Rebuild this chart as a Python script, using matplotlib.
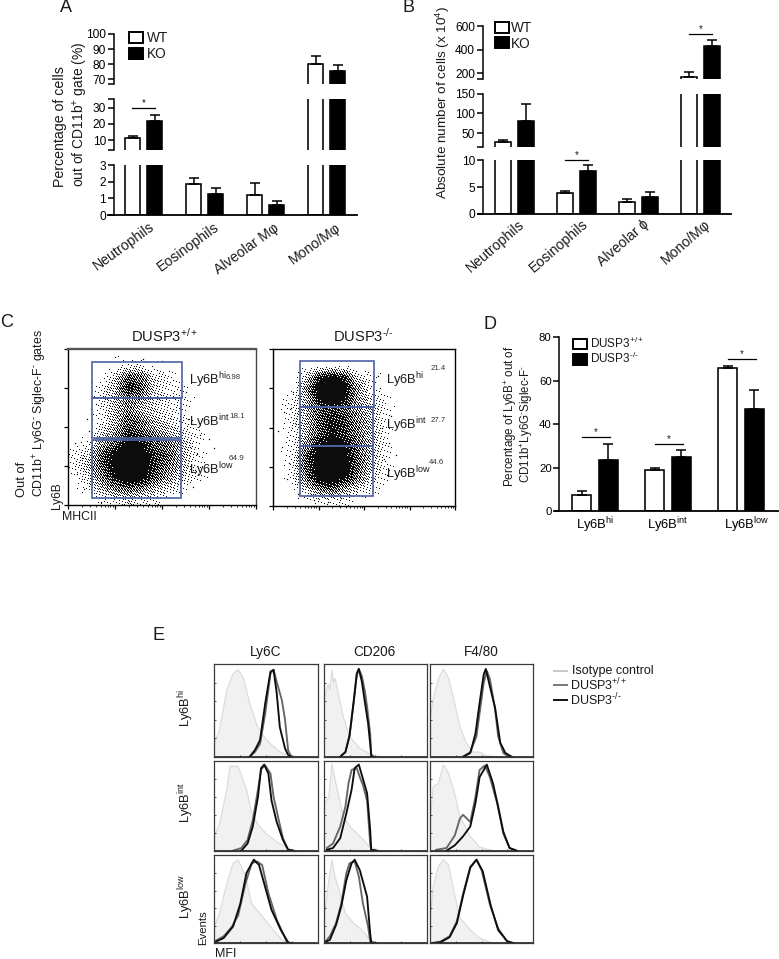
import numpy as np
import matplotlib
matplotlib.use("Agg")
import matplotlib.pyplot as plt
from matplotlib.patches import Patch, Rectangle
from matplotlib.lines import Line2D
from matplotlib.transforms import ScaledTranslation

plt.rcParams.update({
    "font.family": ["Liberation Sans", "DejaVu Sans"],
    "mathtext.fontset": "custom", "mathtext.rm": "Liberation Sans",
    "mathtext.it": "Liberation Sans:italic", "mathtext.bf": "Liberation Sans:bold",
    "mathtext.default": "regular", "text.color": "#1a1a1a",
})

# ---------- Panel A ----------
CELLS_A = ["Neutrophils", "Eosinophils", "Alveolar Mφ", "Mono/Mφ"]
A_WT = [11.5, 1.85, 1.2, 80]
A_WT_ERR = [1.0, 0.4, 0.7, 5.5]
A_KO = [21.5, 1.25, 0.6, 75.5]
A_KO_ERR = [4.0, 0.35, 0.25, 4.0]
# ---------- Panel B ----------
CELLS_B = ["Neutrophils", "Eosinophils", "Alveolar ɸ", "Mono/Mφ"]
B_WT = [26, 3.8, 2.2, 171]
B_WT_ERR = [6, 0.5, 0.55, 37]
B_KO = [81, 8.0, 3.1, 434]
B_KO_ERR = [44, 1.2, 0.9, 49]
# ---------- Panel D ----------
GATES_D = ["Ly6B$^{hi}$", "Ly6B$^{int}$", "Ly6B$^{low}$"]
D_WT = [7.5, 19, 66]
D_WT_ERR = [1.5, 0.8, 1.0]
D_KO = [23.7, 25, 47]
D_KO_ERR = [7.3, 3.2, 8.8]
D_SIG = [34, 30.7, 70]

# ---------- Panel C: hand-read dot density (rows top to bottom, columns left to right) ----------
DENS_WT = [
 [0,0,0,0,0,0,0,0,0,0,0,0,0,0],
 [0,0,0,0,1,1,0,0,0,0,0,0,0,0],
 [0,0,0,2,6,5,2,1,0,0,0,0,0,0],
 [0,0,1,3,8,6,2,1,1,0,0,0,0,0],
 [0,0,1,3,5,4,2,1,1,0,0,0,0,0],
 [0,0,1,3,5,3,2,1,1,0,0,0,0,0],
 [0,0,1,3,6,5,3,2,1,0,0,0,0,0],
 [0,0,2,4,7,6,4,3,2,1,0,0,0,0],
 [0,1,4,6,9,8,6,5,3,1,0,0,0,0],
 [1,2,6,9,10,9,7,6,3,1,0,0,0,0],
 [1,3,6,9,10,10,7,5,3,1,0,0,0,0],
 [0,2,5,8,10,9,6,4,2,1,0,0,0,0],
 [0,1,3,5,6,5,3,2,1,0,0,0,0,0],
 [0,0,1,1,2,1,1,0,0,0,0,0,0,0],
]
DENS_KO = [
 [0,0,0,0,0,0,0,0,0,0,0,0,0,0],
 [0,0,0,0,0,0,0,0,0,0,0,0,0,0],
 [0,0,2,7,9,7,2,1,0,0,0,0,0,0],
 [0,0,4,9,10,9,4,1,0,0,0,0,0,0],
 [0,1,3,8,9,8,4,2,1,0,0,0,0,0],
 [0,1,3,6,7,6,4,3,1,0,0,0,0,0],
 [0,1,3,6,8,7,5,3,1,0,0,0,0,0],
 [0,1,3,6,8,7,5,3,1,0,0,0,0,0],
 [0,1,4,8,9,8,6,3,1,0,0,0,0,0],
 [0,1,6,9,10,9,6,3,1,0,0,0,0,0],
 [0,1,6,9,10,10,6,3,1,0,0,0,0,0],
 [0,1,5,9,10,8,5,2,1,0,0,0,0,0],
 [0,0,2,5,6,4,2,1,0,0,0,0,0,0],
 [0,0,0,1,1,1,0,0,0,0,0,0,0,0],
]
GATES_WT = [(0.52, 2.42, 2.74, 3.66), (0.52, 2.41, 1.71, 2.74), (0.50, 2.41, 0.19, 1.67)]
GATES_KO = [(0.59, 2.22, 2.53, 3.70), (0.60, 2.19, 1.52, 2.53), (0.60, 2.20, 0.26, 1.52)]
STRAY_WT_X = [0.3,0.45,0.2,0.6,0.35,2.6,2.8,3.0,2.55,2.7,3.1,0.15,2.65,2.9,0.4,1.0,1.6,2.0,1.3,0.7,2.5,2.75]
STRAY_WT_Y = [1.2,1.9,0.8,2.6,0.4,1.5,1.8,1.7,2.2,0.9,1.45,1.6,0.45,1.1,2.2,3.8,3.75,3.7,0.1,0.08,2.9,1.3]
STRAY_KO_X = [0.2,0.35,0.5,0.45,0.3,2.4,2.55,2.35,2.7,2.5,0.1,0.55,2.6,0.4,0.9,1.5,1.2,2.45,0.25,2.3]
STRAY_KO_Y = [1.5,1.1,2.1,2.9,0.7,2.0,1.6,3.0,1.3,0.8,1.9,0.3,2.3,2.5,0.15,0.2,0.1,1.2,2.4,3.3]

# ---------- Panel E: histograms, x and y in percent of the panel ----------
HIST_HI_LY6C = dict(
 iso_x=[0,5,12,18,23,28,34,41,47,54,63,73,86], iso_y=[14,29,72,90,94,85,58,34,23,14,5,1,0],
 wt_x=[34,39,44,49,54,57,60,65,68,71,74], wt_y=[0,5,14,47,90,94,81,61,40,7,0],
 ko_x=[34,39,44,49,54,57,60,63,68,71,74], ko_y=[0,7,18,58,92,94,69,32,9,2,0])
HIST_HI_CD206 = dict(
 iso_x=[0,2,4.5,6,8,9.5,11,14,19,25,35,45,55], iso_y=[61,70,79,72,94,80,85,69,43,22,9,3,0],
 wt_x=[16,21,25,29,32,34,37,40,42,45,46,48], wt_y=[0,5,22,58,88,95,87,70,54,25,2,0],
 ko_x=[16,21,25,29,32,34,37,40,43,45,46,48], ko_y=[0,5,23,60,90,95,81,58,36,14,1,0])
HIST_HI_F480 = dict(
 iso_x=[0,3,8,13,18,23,29,35,42,48,55,65], iso_y=[40,62,84,95,85,62,33,15,5,5,1,0],
 wt_x=[32,39,45,48,52,55,58,63,66,71,76], wt_y=[0,5,22,47,80,93,84,51,22,4,0],
 ko_x=[32,39,44,48,52,54,58,63,68,73,79], ko_y=[0,4,25,58,89,95,76,53,15,4,0])
HIST_INT_LY6C = dict(
 iso_x=[0,5,12,15,23,31,36,42,50,60,70,79], iso_y=[17,30,68,94,94,68,42,29,19,10,3,0],
 wt_x=[18,26,32,37,42,45,49,54,57,62,66,71,76], wt_y=[0,3,12,34,68,91,95,86,60,34,14,1,0],
 ko_x=[26,32,37,42,45,48,52,55,60,66,71,76], ko_y=[0,8,27,60,92,96,86,56,32,12,1,0])
HIST_INT_CD206 = dict(
 iso_x=[0,1,5,8,11,14,19,27,35,45,55], iso_y=[17,53,60,97,79,64,38,25,16,4,0],
 wt_x=[3,9,16,21,24,27,32,35,38,42,45,46,51], wt_y=[3,8,27,49,75,90,92,82,73,56,8,1,0],
 ko_x=[3,9,16,22,27,30,34,37,42,45,46,51], ko_y=[1,3,14,42,68,92,96,84,64,23,1,0])
HIST_INT_F480 = dict(
 iso_x=[0,3,8,13,18,23,29,39,48,61], iso_y=[30,71,75,96,86,68,38,16,4,0],
 wt_x=[6,16,24,29,32,39,44,48,53,58,65,71,77,84], wt_y=[1,3,17,36,40,32,60,90,95,82,53,19,3,0],
 ko_x=[16,24,32,39,44,48,55,61,66,71,77,84], ko_y=[0,6,16,27,53,82,96,75,49,21,3,0])
HIST_LOW_LY6C = dict(
 iso_x=[0,5,12,18,23,30,36,44,54,65,75], iso_y=[19,34,68,91,95,76,45,34,19,4,0],
 wt_x=[0,9,17,23,30,36,41,46,52,60,70,75], wt_y=[2,8,19,32,68,91,93,89,57,27,1,0],
 ko_x=[0,9,18,25,31,38,43,47,55,64,71,75], ko_y=[1,6,19,45,80,95,89,72,38,15,1,0])
HIST_LOW_CD206 = dict(
 iso_x=[0,1,5,8,11,14,21,29,37,45,53], iso_y=[10,34,72,95,76,64,34,23,15,4,0],
 wt_x=[1,6,12,17,22,25,30,34,38,43,45,50], wt_y=[1,8,23,45,80,91,93,76,45,19,2,0],
 ko_x=[1,6,12,17,22,27,30,35,42,45,46,51], ko_y=[1,4,21,42,72,91,95,83,53,11,1,0])
HIST_LOW_F480 = dict(
 iso_x=[0,3,8,13,18,23,29,39,48,61], iso_y=[25,64,87,95,89,60,29,15,6,0],
 wt_x=[0,10,19,26,32,39,45,50,58,66,74,81], wt_y=[0,2,8,25,56,87,95,83,44,17,3,0],
 ko_x=[0,10,19,26,32,39,45,51,59,66,75,82], ko_y=[0,1,7,23,54,86,95,82,42,15,2,0])
HIST_GRID = [[HIST_HI_LY6C, HIST_HI_CD206, HIST_HI_F480],
             [HIST_INT_LY6C, HIST_INT_CD206, HIST_INT_F480],
             [HIST_LOW_LY6C, HIST_LOW_CD206, HIST_LOW_F480]]
HIST_TITLES = ["Ly6C", "CD206", "F4/80"]
HIST_ROWS = ["Ly6B$^{hi}$", "Ly6B$^{int}$", "Ly6B$^{low}$"]
HY = "\u2010"
PLUS_SUP = "DUSP3$^{+/+}$"
MINUS_SUP = "DUSP3$^{" + HY + "/" + HY + "}$"

W, H = 779, 959
fig = plt.figure(figsize=(W / 100, H / 100), dpi=100, facecolor="white")


def px_axes(x0, ytop, x1, ybot):
    ax = fig.add_axes([x0 / W, 1 - ybot / H, (x1 - x0) / W, (ybot - ytop) / H])
    ax.patch.set_alpha(0)
    return ax


def ftext(x, y, s, **kw):
    kw.setdefault("ha", "left")
    kw.setdefault("va", "center")
    return fig.text(x / W, 1 - y / H, s, **kw)


def draw_bars(ax, wt, wt_err, ko, ko_err, off, bw):
    xs = np.arange(len(wt))
    ax.bar(xs - off, wt, bw, facecolor="white", edgecolor="black", linewidth=1.15)
    ax.bar(xs + off, ko, bw, facecolor="black", edgecolor="black", linewidth=1.15)
    ax.errorbar(xs - off, wt, yerr=[np.zeros(len(wt)), wt_err], fmt="none", ecolor="black",
                elinewidth=1.1, capsize=3.6, capthick=1.1)
    ax.errorbar(xs + off, ko, yerr=[np.zeros(len(ko)), ko_err], fmt="none", ecolor="black",
                elinewidth=1.1, capsize=3.6, capthick=1.1)


def broken_panel(xl, xr, centre0, spacing, bw_px, off_px, spine_pts, segs, wt, wte, ko, koe, labels, rot, lab_off):
    axes = []
    lim = ((xl - centre0) / spacing, (xr - centre0) / spacing)
    for i, (ytop, ybot, y0, y1, ticks, tl) in enumerate(segs):
        ax = px_axes(xl, ytop, xr, ybot)
        draw_bars(ax, wt, wte, ko, koe, off_px / spacing, bw_px / spacing)
        ax.set_xlim(lim)
        ax.set_ylim(y0, y1)
        for s in ("top", "right"):
            ax.spines[s].set_visible(False)
        ax.spines["left"].set_position(("outward", -spine_pts))
        ax.spines["left"].set_linewidth(1.1)
        last = i == len(segs) - 1
        ax.spines["bottom"].set_visible(last)
        ax.spines["bottom"].set_linewidth(1.3)
        ax.set_xticks([])
        ax.set_yticks(ticks)
        ax.set_yticklabels(tl, fontsize=8.6)
        ax.tick_params(axis="y", length=4.2, width=1.1, pad=1.5)
        axes.append(ax)
    for i, lab in enumerate(labels):
        axes[-1].annotate(lab, (i, 0), xycoords=("data", "axes fraction"),
                          xytext=lab_off[i], textcoords="offset points", rotation=rot,
                          ha="right", va="top", rotation_mode="anchor", fontsize=10.2)
    return axes


def sig(ax, x0, x1, y, star_pts=0.5):
    ax.plot([x0, x1], [y, y], color="black", lw=0.9, clip_on=False)
    ax.annotate("*", ((x0 + x1) / 2, y), xytext=(0, star_pts), textcoords="offset points",
                ha="center", va="bottom", fontsize=7, annotation_clip=False)


def bar_legend(ax, x, y, labels, fs, w, h, sp, pad):
    hs = [Patch(facecolor="white", edgecolor="black", linewidth=1.4),
          Patch(facecolor="black", edgecolor="black", linewidth=1.4)]
    ax.legend(hs, labels, loc="upper left", bbox_to_anchor=(x / W, 1 - y / H),
              bbox_transform=fig.transFigure, frameon=False, fontsize=fs, handlelength=w,
              handleheight=h, labelspacing=sp, handletextpad=pad, borderpad=0, borderaxespad=0)


# Panel A
a = broken_panel(108, 357, 143.5, 61, 15.5, 11, 4.3, [
    (34, 84, 66.67, 100, [66.67, 70, 80, 90, 100], ["", "70", "80", "90", "100"]),
    (99.3, 150, 3.83, 35.2, [3.83, 10, 20, 30, 35.2], ["", "10", "20", "30", ""]),
    (165, 215, 0, 3, [0, 1, 2, 3], ["0", "1", "2", "3"]),
], A_WT, A_WT_ERR, A_KO, A_KO_ERR, CELLS_A, 36, [(3.5, -3.5), (6.5, -3.5), (6, -4), (6, -4)])
sig(a[1], -0.19, 0.19, 29.6)
bar_legend(a[0], 129, 31, ["WT", "KO"], 9.8, 1.0, 0.85, 0.15, 0.35)
ftext(60, 127, "Percentage of cells", rotation=90, ha="center", fontsize=10.2)
ftext(80, 114, "out of CD11b$^{+}$ gate (%)", rotation=90, ha="center", fontsize=10.0)
ftext(60, 7, "A", fontsize=13)

# Panel B
b = broken_panel(478, 731, 514.5, 62, 16, 11.5, 3.6, [
    (26.3, 79.3, 149, 600, [149, 200, 400, 600], ["", "200", "400", "600"]),
    (93.7, 146.7, 15.2, 150, [15.2, 50, 100, 150], ["", "50", "100", "150"]),
    (160.3, 213.7, 0, 10, [0, 5, 10], ["0", "5", "10"]),
], B_WT, B_WT_ERR, B_KO, B_KO_ERR, CELLS_B, 41, [(2.5, -2.5), (3.5, -2.5), (3, -2.5), (2.5, -2.5)])
sig(b[2], 0.82, 1.18, 10.0)
sig(b[0], 2.82, 3.18, 532)
bar_legend(b[0], 495, 21, ["WT", "KO"], 9.8, 1.0, 0.85, 0.12, 0.2)
ftext(443, 102, "Absolute number of cells (x 10$^{4}$)", rotation=90, ha="center", fontsize=9.7)
ftext(402, 7, "B", fontsize=13)


# Panel C: the hand-read densities are shown as stipple through a fixed halftone screen
def stipple(dens, h, w):
    d = np.array(dens, float)
    rows, cols = d.shape
    yy = (np.arange(h) + 0.5) / h * rows - 0.5
    xx = (np.arange(w) + 0.5) / w * cols - 0.5
    by_col = np.array([np.interp(xx, np.arange(cols), r) for r in d])
    up = np.array([np.interp(yy, np.arange(rows), by_col[:, j]) for j in range(w)]).T
    i, j = np.indices((h, w))
    screen = (52.9829189 * ((0.06711056 * j + 0.00583715 * i) % 1)) % 1
    return (1.2 * (up / 10) ** 1.15 > screen).astype(float)


def flow_axes(x0, x1, ytop, ybot, dens, gates, sx, sy, strong_frame):
    ax = px_axes(x0, ytop, x1, ybot)
    h_px, w_px = int(round(ybot - ytop)), int(round(x1 - x0))
    ax.imshow(stipple(dens, h_px, w_px), extent=(0, 4, 0, 4), origin="upper", aspect="auto",
              cmap="gray_r", vmin=0, vmax=1.05, interpolation="bilinear", zorder=1)
    ax.scatter(sx, sy, s=1.0, color="black", linewidths=0, zorder=2)
    for (g0, g1, h0, h1) in gates:
        ax.add_patch(Rectangle((g0, h0), g1 - g0, h1 - h0, fill=False, edgecolor="#4c62a4",
                               linewidth=1.2, zorder=3))
    ax.set_xlim(0, 4)
    ax.set_ylim(0, 4)
    major = [0, 1, 2, 3, 4]
    minor = [k + np.log10(m) for k in range(4) for m in range(2, 10)]
    ax.set_xticks(major, [""] * 5)
    ax.set_yticks(major, [""] * 5)
    ax.set_xticks(minor, minor=True)
    ax.tick_params(axis="both", which="major", length=3, width=0.9, direction="out")
    ax.tick_params(axis="x", which="minor", length=1.6, width=0.6, direction="out")
    if strong_frame:
        ax.spines["top"].set_color("#555555")
        ax.spines["top"].set_linewidth(1.7)
        ax.spines["right"].set_color("#444444")
    for s in ax.spines.values():
        s.set_linewidth(max(s.get_linewidth(), 1.0))
    return ax


flow_axes(68, 256, 349, 505, DENS_WT, GATES_WT, STRAY_WT_X, STRAY_WT_Y, True)
flow_axes(273, 455, 349, 506, DENS_KO, GATES_KO, STRAY_KO_X, STRAY_KO_Y, False)
ftext(165, 336, PLUS_SUP, ha="center", fontsize=10.6)
ftext(363, 336, MINUS_SUP, ha="center", fontsize=10.6)
ftext(188.7, 380, "Ly6B$^{hi}$", fontsize=9.3)
ftext(226, 377, "6.98", fontsize=5.6, color="#333333")
ftext(188.7, 422.5, "Ly6B$^{int}$", fontsize=9.3)
ftext(229, 416, "18.1", fontsize=5.8, color="#333333")
ftext(188.7, 470.5, "Ly6B$^{low}$", fontsize=9.3)
ftext(229, 459, "64.9", fontsize=5.8, color="#333333")
ftext(385.7, 380, "Ly6B$^{hi}$", fontsize=9.3)
ftext(431, 368, "21.4", fontsize=5.6, color="#333333")
ftext(385.7, 425, "Ly6B$^{int}$", fontsize=9.3)
ftext(431, 420, "27.7", fontsize=5.6, color="#333333")
ftext(385.7, 474, "Ly6B$^{low}$", fontsize=9.3)
ftext(429, 462, "44.6", fontsize=5.6, color="#333333")
ftext(22, 497, "Out of", rotation=90, ha="center", va="bottom", fontsize=9.3)
ftext(40, 497, "CD11b$^{+}$ Ly6G$^{" + HY + "}$ Siglec-F$^{" + HY + "}$ gates", rotation=90, ha="center", va="bottom", fontsize=8.9)
ftext(57, 509, "Ly6B", rotation=90, ha="center", va="bottom", fontsize=8.6)
ftext(62, 517, "MHCII", fontsize=8.8)
ftext(0, 323, "C", fontsize=13)

# Panel D
spacing_d = 73
d = px_axes(555, 337.3, 778, 511)
draw_bars(d, D_WT, D_WT_ERR, D_KO, D_KO_ERR, 13.4 / spacing_d, 19.5 / spacing_d)
d.set_xlim((555 - 595) / spacing_d, (778 - 595) / spacing_d)
d.set_ylim(0, 80)
for s in ("top", "right"):
    d.spines[s].set_visible(False)
d.spines["left"].set_position(("outward", -3.1))
d.spines["left"].set_linewidth(1.1)
d.spines["bottom"].set_linewidth(1.3)
d.set_yticks([0, 20, 40, 60, 80])
d.tick_params(axis="y", labelsize=8.2, length=4, width=1.1, pad=1.5)
d.set_xticks(range(3), GATES_D, fontsize=9.4)
d.tick_params(axis="x", length=0, pad=3)
d.get_xticklabels()[2].set_transform(d.get_xticklabels()[2].get_transform()
                                     + ScaledTranslation(6 / 100, 0, fig.dpi_scale_trans))
for i, yv in enumerate(D_SIG):
    sig(d, i - 0.18, i + 0.20, yv, star_pts=0.3)
bar_legend(d, 573, 335.5, [PLUS_SUP, MINUS_SUP], 8.5, 1.15, 0.95, 0.05, 0.3)
ftext(510.5, 416, "Percentage of Ly6B$^{+}$ out of", rotation=90, ha="center", fontsize=8.4)
ftext(527, 424, "CD11b$^{+}$Ly6G$^{" + HY + "}$Siglec-F$^{" + HY + "}$", rotation=90, ha="center", fontsize=8.3)
ftext(483, 325, "D", fontsize=13)

# Panel E
cols_px = [(214.3, 318.3), (323.7, 427), (430, 533.3)]
rows_px = [(664.3, 756.7), (761, 850.7), (855.3, 943.3)]
for r, (yt, yb) in enumerate(rows_px):
    for c, (x0, x1) in enumerate(cols_px):
        h = HIST_GRID[r][c]
        ax = px_axes(x0, yt, x1, yb)
        ax.fill(h["iso_x"] + [h["iso_x"][-1], 0], h["iso_y"] + [0, 0], facecolor="#f1f1f1",
                edgecolor="#dadada", linewidth=0.8)
        ax.plot(h["wt_x"], h["wt_y"], color="#666666", lw=1.35, solid_joinstyle="round")
        ax.plot(h["ko_x"], h["ko_y"], color="#0d0d0d", lw=1.35, solid_joinstyle="round")
        ax.plot([0, 100], [0, 0], color="#222222", lw=1.2)
        ax.set_xlim(0, 100)
        ax.set_ylim(0, 100)
        ax.set_xticks([0, 25, 50, 75, 100], [""] * 5)
        ax.set_yticks([0, 20, 40, 60, 80, 100], [""] * 6)
        ax.set_xticks([5, 10, 15, 20, 30, 35, 40, 45, 55, 60, 65, 70, 80, 85, 90, 95], minor=True)
        ax.tick_params(axis="both", which="major", length=1.6, width=0.6, direction="in", color="#333333")
        ax.tick_params(axis="x", which="minor", length=1.0, width=0.5, direction="in", color="#333333")
        for s in ax.spines.values():
            s.set_color("#3a3a3a")
            s.set_linewidth(0.9)
for t, (x0, x1) in zip(HIST_TITLES, cols_px):
    ftext((x0 + x1) / 2 - 0.5, 651.7, t, ha="center", fontsize=9.8)
for lab, yc in zip(HIST_ROWS, [708, 803, 897]):
    ftext(186, yc, lab, rotation=90, ha="center", fontsize=9.3)
ftext(203, 928, "Events", rotation=90, ha="center", fontsize=8.2)
ftext(215, 954, "MFI", fontsize=9)
ftext(152, 635, "E", fontsize=13)
for yl, col, lab, xt in [(671, "#c9c9c9", "Isotype control", 571.5), (685, "#777777", PLUS_SUP, 570.5),
                         (700, "#111111", MINUS_SUP, 570.5)]:
    fig.add_artist(Line2D([554 / W, 567 / W], [1 - yl / H, 1 - yl / H], color=col, lw=1.4))
    ftext(xt, yl, lab, fontsize=9)

fig.savefig("out.png", dpi=100)
